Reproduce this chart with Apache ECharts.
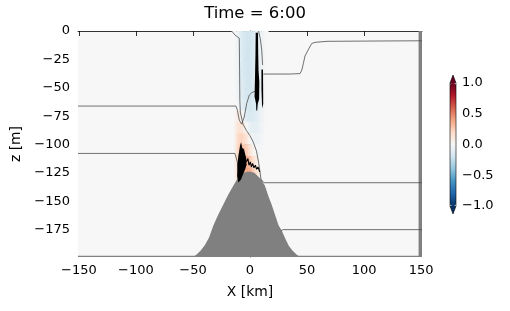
<!DOCTYPE html>
<html><head><meta charset="utf-8">
<script src="https://cdn.jsdelivr.net/npm/echarts@6/dist/echarts.min.js"></script>
<style>html,body{margin:0;padding:0;background:#fff}#c{width:510px;height:311px}</style>
</head><body><div id="c"></div>
<script>
// ---- data ----
const titleText = 'Time = 6:00';
const xTicks = [-150, -100, -50, 0, 50, 100, 150];
const zTicks = [0, -25, -50, -75, -100, -125, -150, -175];
const cbTicks = [-1, -0.5, 0, 0.5, 1];
const rdbu = ['#053061','#2166ac','#4393c3','#92c5de','#d1e5f0','#f7f7f7','#fddbc7','#f4a582','#d6604d','#b2182b','#67001f'];

// velocity field cells (x centres km, z centres m), values
const fieldX = [-15,-13,-11,-9,-7,-5,-3,-1,1,3,5,7,9,11,13,15];
const fieldZ = [-5,-15,-25,-35,-45,-55,-65,-75,-85,-95,-105,-115,-125,-135];
const fieldRows = [
  [0,-0.02,-0.05,-0.10,-0.14,-0.18,-0.19,-0.19,-0.18,-0.16,-0.13,-0.10,-0.07,-0.04,-0.02,0],
  [0,-0.02,-0.05,-0.10,-0.14,-0.18,-0.19,-0.19,-0.18,-0.16,-0.13,-0.10,-0.07,-0.04,-0.02,0],
  [0,-0.02,-0.05,-0.10,-0.14,-0.18,-0.19,-0.19,-0.18,-0.16,-0.13,-0.10,-0.07,-0.04,-0.02,0],
  [0,-0.02,-0.05,-0.10,-0.14,-0.18,-0.19,-0.19,-0.18,-0.16,-0.14,-0.11,-0.08,-0.04,-0.02,0],
  [0,-0.02,-0.05,-0.09,-0.14,-0.17,-0.19,-0.19,-0.18,-0.16,-0.14,-0.11,-0.08,-0.04,-0.02,0],
  [0,-0.01,-0.04,-0.08,-0.13,-0.16,-0.18,-0.18,-0.18,-0.16,-0.14,-0.11,-0.08,-0.04,-0.02,0],
  [0,-0.01,-0.02,-0.05,-0.10,-0.14,-0.17,-0.17,-0.17,-0.16,-0.14,-0.11,-0.08,-0.04,-0.02,0],
  [0,0.03,0.07,0.08,0.03,-0.06,-0.12,-0.15,-0.16,-0.15,-0.13,-0.10,-0.07,-0.04,-0.01,0],
  [0,0.05,0.13,0.15,0.13,0.08,0.01,-0.06,-0.10,-0.11,-0.10,-0.08,-0.06,-0.03,-0.01,0],
  [0,0.06,0.17,0.22,0.22,0.19,0.13,0.05,-0.02,-0.05,-0.06,-0.05,-0.04,-0.02,0,0],
  [0,0.06,0.19,0.28,0.31,0.30,0.25,0.18,0.10,0.04,0.00,-0.02,-0.02,-0.01,0,0],
  [0,0.06,0.20,0.32,0.37,0.38,0.36,0.31,0.24,0.17,0.10,0.04,0.00,0,0,0],
  [0,0.05,0.18,0.32,0.38,0.40,0.39,0.37,0.33,0.26,0.18,0.10,0.03,0,0,0],
  [0,0.03,0.12,0.24,0.32,0.35,0.35,0.35,0.32,0.26,0.17,0.08,0.02,0,0,0]
];

// topography (hill) profile
const hillX = [-50,-47,-43,-39.5,-36,-32,-28,-23.5,-19,-14.5,-11,-8,-5,-2,1,4,7,10,13,16,19,22,25,28,31,34,37,41,44];
const hillZ = [-199,-197,-193,-188.5,-182,-171,-162,-153,-144,-136,-130,-126,-124.5,-124,-124,-125,-128,-131,-136,-145,-153,-162,-171,-176,-183,-189,-193,-197,-199];

// land masks [x0, x1, z0, z1]
const masks = [[147.75,150.75,0,-199],[-150.75,150.75,-198,-199]];

// contour lines (x km, z m)
const lineA = [[150.75,-8.6],[114,-8.8],[67.5,-9.1],[57,-10],[54.1,-11],[50.9,-16.8],[48.2,-22],[46.8,-28.5],[45.4,-34.4],[43.9,-37.5],[35,-37.9],[11.8,-37.9]];
const lineB = [[-150.75,-66.1],[-12.3,-66.1],[-11,-70],[-9.4,-78.5],[-7.3,-82],[-5,-75.6],[-2.9,-63.8],[-0.6,-56.4],[1.5,-54.4],[2.9,-53.5],[4.4,-52.9]];
const lineC = [[-16.1,0],[-13.2,-3.5],[-9.4,-6.4],[-9.1,-34.4],[-8.9,-60.8],[-8.5,-71.4],[-6.1,-82],[-3.1,-87.7],[0,-92.2],[2.9,-97.9],[5.7,-105.8],[7.5,-115.5],[8.8,-124.3],[9.6,-130.5],[12.3,-133.6],[150.75,-133.6]];
const lineD = [[-150.75,-107.8],[-13.2,-107.8],[-11.1,-115.3],[-10.3,-122.6]];
const lineE = [[27,-176],[27.9,-177.2],[28.9,-174.9],[150.75,-174.9]];
const lineF = [[7.5,0],[9.2,-7.9],[10.3,-16.8],[11,-30]];
const zigzag = [[-3.2,-115.3],[-1.8,-112.3],[-0.9,-118.2],[0.3,-115.3],[1.2,-119.7],[2.3,-116.7],[3.5,-120.5],[4.7,-118.2],[5.8,-121.7],[7,-119.7],[8.5,-124]];

// crowded (black) contour patches
const patchTop = [[5.0,-1.5],[7.0,-1.5],[7.2,-20],[7.5,-35],[8.2,-45],[8.0,-60],[6.8,-64],[6.3,-70],[5.5,-70],[5.3,-64],[4.0,-58],[4.4,-40],[4.8,-20]];
const patchThin = [[10.0,-34],[11.4,-34],[11.6,-64],[10.6,-68],[10.0,-50]];
const patchLow = [[-7.8,-98],[-6.8,-103],[-5.3,-104],[-4.3,-108],[-3.3,-112],[-3.0,-118],[-4.3,-122],[-6.0,-126],[-8.0,-131],[-10.2,-133.5],[-11.3,-128],[-11.0,-118],[-10.2,-110],[-9.2,-104],[-8.5,-100]];
const patches = [patchTop, patchThin, patchLow];

// ---- build ----
const FONT = 'DejaVu Sans';
const minus = v => String(v).replace('-', '\u2212');
const fieldData = [];
fieldZ.forEach((z, i) => fieldX.forEach((x, j) => fieldData.push([x, z, fieldRows[i][j]])));
const DX = 1, DZ = 5;

const contourSeries = [lineA, lineB, lineC, lineD, lineE, lineF].map(d => ({
  type: 'line', data: d, symbol: 'none', silent: true, z: 4,
  lineStyle: { color: '#4d4d4d', width: 0.8 }
}));

const chart = echarts.init(document.getElementById('c'), null, { renderer: 'canvas' });
chart.setOption({
  animation: false,
  backgroundColor: '#fff',
  textStyle: { fontFamily: FONT },
  title: { text: titleText, left: 'center', top: 5, padding: 0,
    textStyle: { fontFamily: FONT, fontSize: 16.5, fontWeight: 'normal', color: '#000' } },
  grid: [
    { left: 78, top: 31, width: 344, height: 226, show: true, backgroundColor: '#f7f7f7', borderWidth: 0 },
    { left: 450, top: 83, width: 6, height: 123, show: false }
  ],
  xAxis: [
    { type: 'value', gridIndex: 0, min: -150.75, max: 150.75,
      name: 'X [km]', nameLocation: 'middle', nameGap: 28,
      nameTextStyle: { fontFamily: FONT, fontSize: 13.9, color: '#000' },
      axisLine: { lineStyle: { color: '#000', width: 0.8 } },
      axisTick: { length: 5, lineStyle: { color: '#000', width: 0.8 }, customValues: xTicks },
      axisLabel: { customValues: xTicks, formatter: minus, color: '#000', fontSize: 13, fontFamily: FONT, margin: 7 },
      splitLine: { show: false } },
    { type: 'value', gridIndex: 1, show: false, min: 0, max: 1 }
  ],
  yAxis: [
    { type: 'value', gridIndex: 0, min: -199, max: 0,
      name: 'z [m]', nameLocation: 'middle', nameGap: 54, nameRotate: 90,
      nameTextStyle: { fontFamily: FONT, fontSize: 13.9, color: '#000' },
      axisLine: { show: true, lineStyle: { color: '#000', width: 0.8 } },
      axisTick: { show: true, length: 5, lineStyle: { color: '#000', width: 0.8 }, customValues: zTicks },
      axisLabel: { customValues: zTicks, formatter: minus, color: '#000', fontSize: 13, fontFamily: FONT, margin: 8 },
      splitLine: { show: false } },
    { type: 'value', gridIndex: 1, position: 'right', min: -1, max: 1, interval: 0.5,
      axisLine: { show: false },
      axisTick: { show: true, length: 4, lineStyle: { color: '#000', width: 0.8 } },
      axisLabel: { formatter: v => minus(v.toFixed(1)), color: '#000', fontSize: 13, fontFamily: FONT, margin: 6 },
      splitLine: { show: false } }
  ],
  visualMap: {
    type: 'continuous', min: -1, max: 1, seriesIndex: 0, dimension: 2,
    inRange: { color: rdbu }, calculable: false, orient: 'vertical',
    left: 450, top: 83, itemWidth: 6, itemHeight: 123, padding: 0, hoverLink: false
  },
  graphic: [
    { type: 'polygon', z: 100, shape: { points: [[450,83],[453,75],[456,83]] }, style: { fill: '#67001f' } },
    { type: 'polygon', z: 100, shape: { points: [[450,206],[453,214],[456,206]] }, style: { fill: '#053061' } },
    { type: 'polygon', z: 101, shape: { points: [[450,83],[453,75],[456,83],[456,206],[453,214],[450,206]] },
      style: { fill: null, stroke: '#000', lineWidth: 0.6 } }
  ],
  series: [
    { type: 'custom', xAxisIndex: 0, yAxisIndex: 0, data: fieldData, z: 1, silent: true,
      renderItem: (params, api) => {
        const p0 = api.coord([api.value(0) - DX, api.value(1) + DZ]);
        const p1 = api.coord([api.value(0) + DX, api.value(1) - DZ]);
        return { type: 'rect', shape: { x: p0[0], y: p0[1], width: p1[0] - p0[0] + 0.3, height: p1[1] - p0[1] + 0.3 },
          style: { fill: api.visual('color') } };
      } },
    { type: 'line', data: hillX.map((x, i) => [x, hillZ[i]]), symbol: 'none', z: 3, silent: true,
      lineStyle: { width: 0 }, areaStyle: { color: '#808080', opacity: 1, origin: 'start' } },
    { type: 'custom', data: masks, z: 3, silent: true,
      renderItem: (params, api) => {
        const a = api.coord([api.value(0), api.value(2)]);
        const b = api.coord([api.value(1), api.value(3)]);
        return { type: 'rect', shape: { x: a[0], y: a[1], width: b[0] - a[0], height: b[1] - a[1] }, style: { fill: '#808080' } };
      } },
    ...contourSeries,
    { type: 'custom', data: patches.map((p, i) => [i]), z: 5, silent: true,
      renderItem: (params, api) => ({ type: 'polygon',
        shape: { points: patches[params.dataIndex].map(pt => api.coord(pt)) }, style: { fill: '#000' } }) },
    { type: 'line', data: zigzag, symbol: 'none', z: 5, silent: true, lineStyle: { color: '#000', width: 1.1 } }
  ]
});
</script></body></html>
